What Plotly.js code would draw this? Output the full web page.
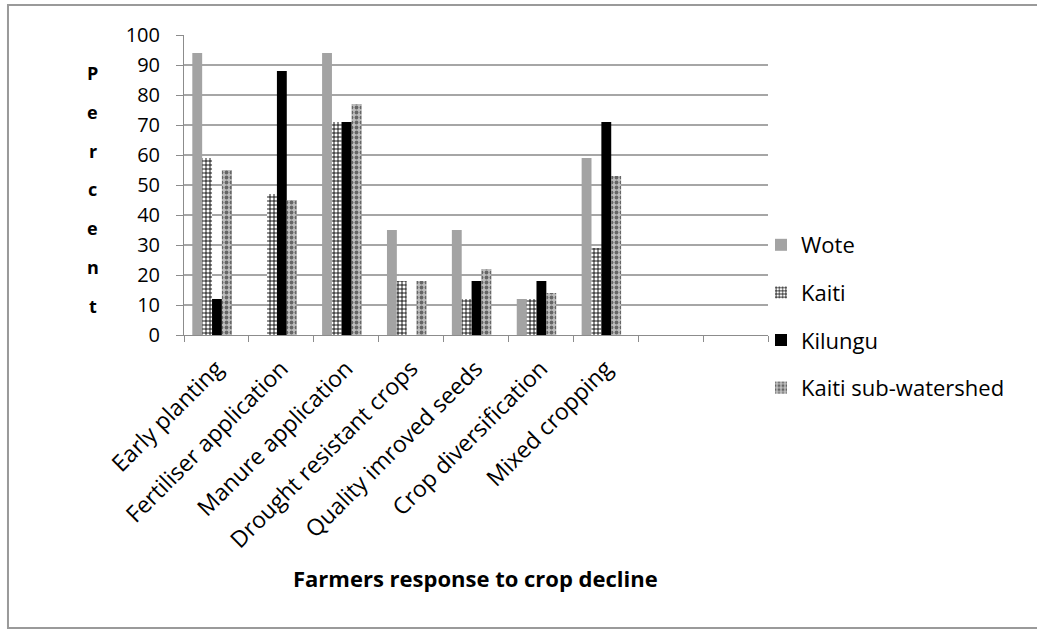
<!DOCTYPE html>
<html>
<head>
<meta charset="utf-8">
<script src="https://cdn.plot.ly/plotly-3.0.1.min.js"></script>
<style>
  html, body { margin: 0; padding: 0; background: #ffffff; }
  #chart { width: 1037px; height: 629px; }
</style>
</head>
<body>
<div id="chart"></div>
<script>
// Farmers' responses to crop decline, percent of respondents per area
const categories = [
  "Early planting",
  "Fertiliser application",
  "Manure application",
  "Drought resistant crops",
  "Quality imroved seeds",
  "Crop diversification",
  "Mixed cropping",
  " ",
  "  "
];
const wote     = [94, 0, 94, 35, 35, 12, 59, null, null];
const kaiti    = [59, 47, 71, 18, 12, 12, 29, null, null];
const kilungu  = [12, 88, 71, 0, 18, 18, 71, null, null];
const kaitiSub = [55, 45, 77, 18, 22, 14, 53, null, null];

const yTicks = [0, 10, 20, 30, 40, 50, 60, 70, 80, 90, 100];
const yTitle = "Percent";
const xTitle = "Farmers response to crop decline";

const FONT = "Open Sans, Noto Sans, sans-serif";

// Bars sit slightly left of each category centre; width and offsets in category units
const BAR_W = 0.152;
const GROUP_START = -0.372;

function barTrace(name, values, idx, marker, group) {
  return {
    type: "bar", name: name, x: categories, y: values, legendgroup: group,
    width: BAR_W,
    offset: GROUP_START + idx * BAR_W,
    marker: marker
  };
}

const traces = [
  barTrace("Wote", wote, 0, { color: "#a3a3a3", line: { width: 0 } }, "a"),
  barTrace("Kaiti", kaiti, 1, {
    color: "#ffffff",
    line: { width: 0 },
    pattern: { shape: "+", fgcolor: "#000000", bgcolor: "#ffffff", size: 4, solidity: 0.4 }
  }, "b"),
  barTrace("Kilungu", kilungu, 2, { color: "#000000", line: { width: 0 } }, "c"),
  barTrace("Kaiti sub-watershed", kaitiSub, 3, {
    color: "#b4b4b4",
    line: { width: 0 },
    pattern: { shape: ".", fgcolor: "#666666", bgcolor: "#bebebe", size: 5, solidity: 0.45 }
  }, "d")
];

// Stacked vertical letters for the y-axis title
const letterAnnotations = yTitle.split("").map(function (ch, i) {
  return {
    text: "<b>" + ch + "</b>",
    xref: "paper", yref: "paper",
    x: -0.156, y: (335 - (73 + i * 38.8)) / 300,
    xanchor: "center", yanchor: "middle",
    showarrow: false,
    font: { family: FONT, size: 18, color: "#000000" }
  };
});

const layout = {
  width: 1037,
  height: 629,
  margin: { l: 184, r: 269, t: 35, b: 294 },
  paper_bgcolor: "#ffffff",
  plot_bgcolor: "#ffffff",
  font: { family: FONT, size: 20, color: "#000000" },
  barmode: "overlay",
  showlegend: true,
  legend: {
    x: 0.988, xanchor: "left",
    y: 0.37, yanchor: "top",
    font: { family: FONT, size: 22, color: "#000000" },
    tracegroupgap: 16,
    itemwidth: 30,
    bgcolor: "rgba(0,0,0,0)"
  },
  xaxis: {
    type: "category",
    categoryorder: "array",
    categoryarray: categories,
    range: [-0.5, 8.5],
    tickangle: -45,
    tickson: "boundaries",
    ticks: "outside",
    ticklen: 6,
    tickcolor: "#8c8c8c",
    ticklabelstandoff: 10,
    showline: true,
    linecolor: "#8c8c8c",
    linewidth: 1,
    showgrid: false,
    tickfont: { family: FONT, size: 23, color: "#000000" },
    fixedrange: true
  },
  yaxis: {
    range: [0, 100],
    tickvals: yTicks,
    ticktext: yTicks.map(String),
    ticks: "outside",
    ticklen: 7,
    tickcolor: "#8c8c8c",
    ticklabelstandoff: 12,
    showline: true,
    linecolor: "#8c8c8c",
    linewidth: 1,
    showgrid: true,
    gridcolor: "#a6a6a6",
    gridwidth: 1.5,
    zeroline: false,
    tickfont: { family: FONT, size: 20, color: "#000000" },
    fixedrange: true
  },
  annotations: letterAnnotations.concat([
    {
      text: "<b>" + xTitle + "</b>",
      xref: "paper", yref: "paper",
      x: (475 - 184) / 584, y: (335 - 578) / 300,
      xanchor: "center", yanchor: "middle",
      showarrow: false,
      font: { family: FONT, size: 22, color: "#000000" }
    }
  ]),
  shapes: [
    {
      type: "rect", xref: "paper", yref: "paper", layer: "below",
      x0: -0.3014, x1: 1.7, y0: -0.977, y1: 1.1,
      line: { color: "#9a9a9a", width: 2 },
      fillcolor: "rgba(0,0,0,0)"
    }
  ]
};

Plotly.newPlot("chart", traces, layout, { displayModeBar: false, staticPlot: true });
</script>
</body>
</html>
